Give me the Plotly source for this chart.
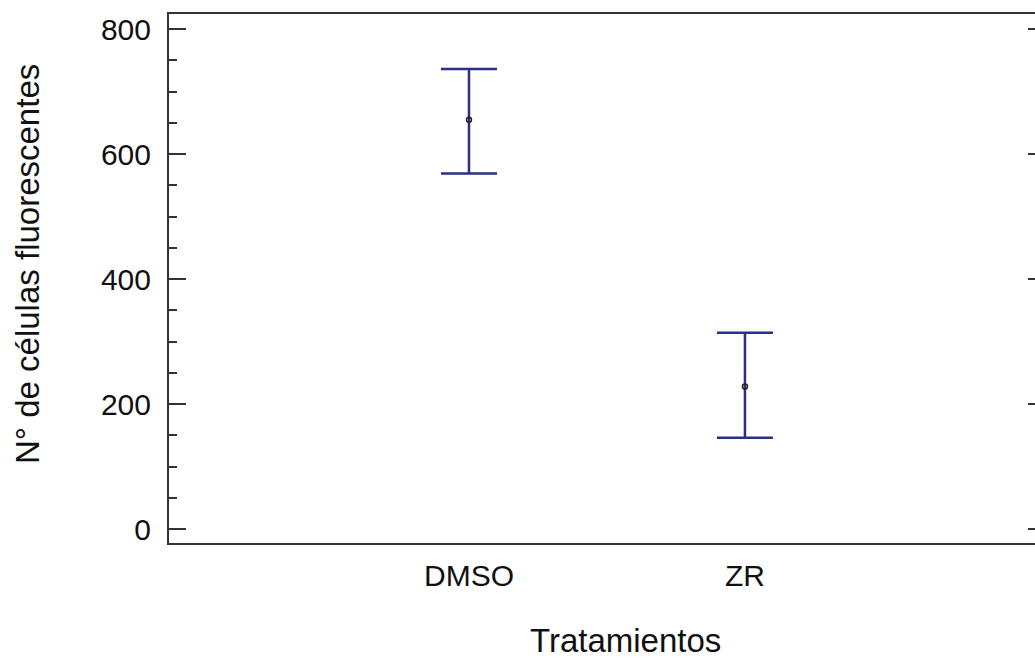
import plotly.graph_objects as go

categories = ["DMSO", "ZR"]
means = [655, 228]
upper = [736, 314]
lower = [569, 146]
y_ticks = [0, 200, 400, 600, 800]
x_title = "Tratamientos"
y_title = "N° de células fluorescentes"

err_plus = [u - m for u, m in zip(upper, means)]
err_minus = [m - l for m, l in zip(means, lower)]

NAVY = "#2b2f86"
AX = "#333333"
FONT = "Liberation Sans, Arial, sans-serif"

W, H = 1035, 658
L, T, B = 169, 14, 543
PW, PH = W - L, B - T

fig = go.Figure()
fig.add_trace(go.Scatter(
    x=categories, y=means, mode="markers",
    marker=dict(symbol="circle-open", size=5, color="#222222", line=dict(width=1.5)),
    error_y=dict(type="data", symmetric=False, array=err_plus, arrayminus=err_minus,
                 color=NAVY, thickness=2.5, width=28),
    showlegend=False, hoverinfo="skip",
))

# right-side inward major ticks (right border lies beyond the picture edge)
for v in y_ticks:
    fig.add_shape(type="line", xref="paper", yref="y", x0=1 - 7 / PW, x1=1, y0=v, y1=v,
                  line=dict(color=AX, width=2), layer="above")

fig.update_layout(
    width=W, height=H,
    margin=dict(l=L, r=0, t=T, b=H - B, pad=0),
    paper_bgcolor="white", plot_bgcolor="white",
    font=dict(family=FONT, color="#111111"),
    xaxis=dict(
        type="category", range=[-1.087, 2.051],
        showline=True, linecolor=AX, linewidth=2, mirror=True,
        ticks="", showgrid=False, zeroline=False,
        tickfont=dict(size=30), ticklabelstandoff=5,
    ),
    yaxis=dict(
        range=[-22.4, 824], tickvals=y_ticks,
        showline=True, linecolor=AX, linewidth=2,
        ticks="inside", ticklen=17, tickwidth=2, tickcolor=AX,
        minor=dict(dtick=50, ticks="inside", ticklen=8, tickwidth=2, tickcolor=AX),
        showgrid=False, zeroline=False,
        tickfont=dict(size=30), ticklabelstandoff=10,
    ),
    annotations=[
        dict(text=x_title, xref="paper", yref="paper",
             x=(625 - L) / PW, y=-(640 - B) / PH,
             xanchor="center", yanchor="middle", showarrow=False, font=dict(size=33)),
        dict(text=y_title, xref="paper", yref="paper",
             x=-(L - 27) / PW, y=(B - 264) / PH,
             xanchor="center", yanchor="middle", textangle=-90, showarrow=False, font=dict(size=33)),
    ],
)

fig.write_html(
    "out.html",
    config={"displayModeBar": False},
    post_script="document.body.style.margin='0';document.documentElement.style.overflow='hidden';",
)
